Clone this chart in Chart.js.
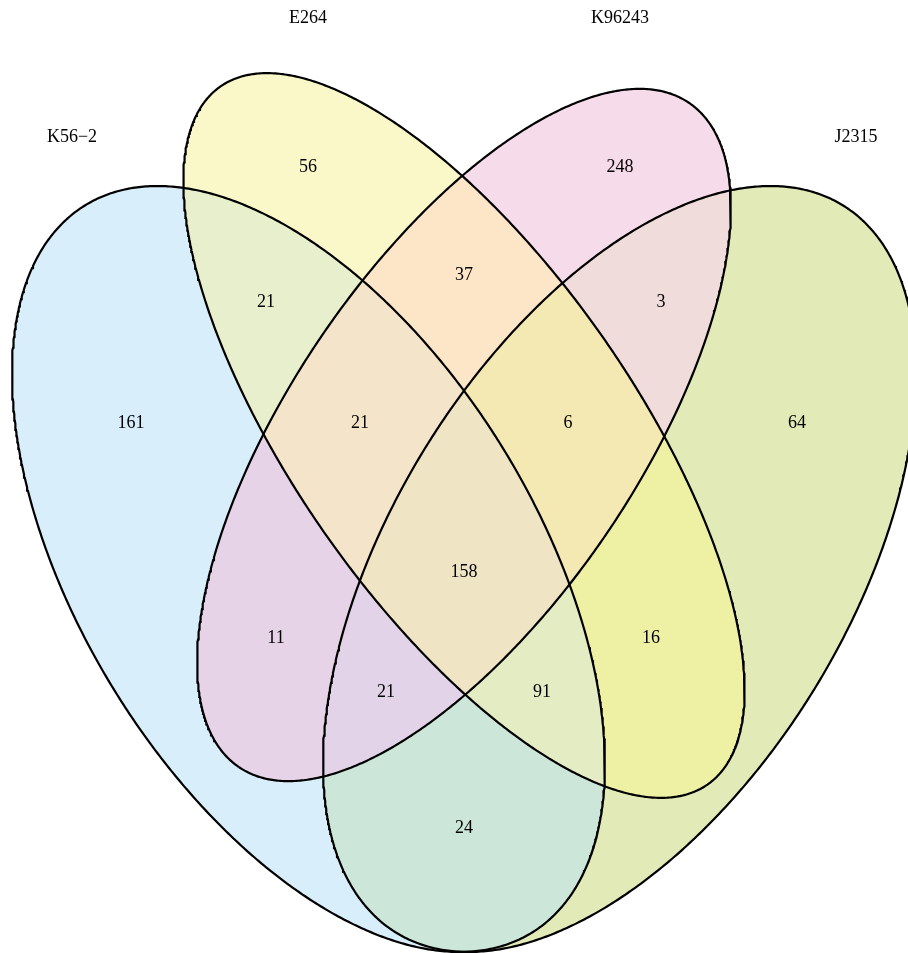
<!DOCTYPE html>
<html><head><meta charset="utf-8">
<script src="https://cdn.jsdelivr.net/npm/chart.js@4.4.1/dist/chart.umd.min.js"></script>
<style>html,body{margin:0;padding:0;background:#fff;overflow:hidden}canvas{display:block}</style>
</head><body>
<canvas id="c" width="908" height="953"></canvas>
<script>
// ---- data ----
const setNames = ["K56\u22122", "E264", "K96243", "J2315"];
const setKeys = ["A", "B", "C", "D"];
// region = combination of sets (A=K56-2, B=E264, C=K96243, D=J2315)
const regionKeys = ["A", "B", "C", "D", "AB", "BC", "CD", "ABC", "BCD", "ABCD", "AC", "BD", "ACD", "ABD", "AD"];
const regionCounts = [161, 56, 248, 64, 21, 37, 3, 21, 6, 158, 11, 16, 21, 91, 24];

// ---- layout (drawing units = pixels, y downward) ----
const ellipseGeom = [
  { cx: 308.5, cy: 569,   a: 426.8, b: 228.9, angle: 58.47 },
  { cx: 464,   cy: 435.5, a: 425.6, b: 170.1, angle: 55.1 },
  { cx: 464,   cy: 435,   a: 401.2, b: 173.4, angle: 124.1 },
  { cx: 619.5, cy: 569,   a: 426.8, b: 228.9, angle: 121.53 }
];
const setLabelAt = [[72, 137], [308, 18], [620, 18], [856, 137]];
const regionLabelAt = {
  A: [131, 423], B: [308, 167], C: [620, 167], D: [797, 423],
  AB: [266, 302], BC: [464, 275], CD: [661, 302], ABC: [360, 423],
  BCD: [568, 423], ABCD: [464, 572], AC: [276, 638], BD: [651, 638],
  ACD: [386, 692], ABD: [542, 692], AD: [464, 828]
};
const regionColors = {
  A: "#D8EEFA", B: "#FAF8C8", C: "#F6DCEA", D: "#E2EBB8",
  AB: "#E8EFCC", BC: "#FDE6C8", CD: "#F0DCDA", ABC: "#F4E5CA",
  BCD: "#F4E8B3", ABCD: "#EFE5C5", AC: "#E6D3E7", BD: "#EEF0A4",
  ACD: "#E3D3E8", ABD: "#E4ECC4", AD: "#CCE6D9"
};
const FONT = '18px "Liberation Serif", "Times New Roman", serif';

function ellipsePoints(e, n) {
  const t = e.angle * Math.PI / 180, c = Math.cos(t), s = Math.sin(t);
  const pts = [];
  for (let i = 0; i <= n; i++) {
    const u = 2 * Math.PI * i / n;
    const px = e.a * Math.cos(u), py = e.b * Math.sin(u);
    pts.push({ x: e.cx + px * c - py * s, y: e.cy + px * s + py * c });
  }
  return pts;
}
const outlines = ellipseGeom.map(e => ellipsePoints(e, 720));

const vennPlugin = {
  id: 'venn',
  beforeDatasetsDraw(chart) {
    const { ctx, scales } = chart;
    const xs = scales.x, ys = scales.y;
    const W = chart.width, H = chart.height;
    const paths = outlines.map(pts => {
      const p = new Path2D();
      pts.forEach((pt, i) => {
        const px = xs.getPixelForValue(pt.x), py = ys.getPixelForValue(pt.y);
        if (i) p.lineTo(px, py); else p.moveTo(px, py);
      });
      p.closePath();
      return p;
    });
    regionKeys.forEach(k => {
      ctx.save();
      setKeys.forEach((s, i) => {
        if (k.includes(s)) ctx.clip(paths[i]);
        else {
          const q = new Path2D();
          q.rect(-10, -10, W + 20, H + 20);
          q.addPath(paths[i]);
          ctx.clip(q, 'evenodd');
        }
      });
      ctx.fillStyle = regionColors[k];
      ctx.fillRect(0, 0, W, H);
      ctx.restore();
    });
  },
  afterDatasetsDraw(chart) {
    const { ctx, scales } = chart;
    const xs = scales.x, ys = scales.y;
    ctx.save();
    ctx.font = FONT;
    ctx.fillStyle = '#000';
    ctx.textAlign = 'center';
    ctx.textBaseline = 'middle';
    regionKeys.forEach((k, i) => {
      const p = regionLabelAt[k];
      ctx.fillText(String(regionCounts[i]), xs.getPixelForValue(p[0]), ys.getPixelForValue(p[1]));
    });
    setNames.forEach((n, i) => {
      const p = setLabelAt[i];
      ctx.fillText(n, xs.getPixelForValue(p[0]), ys.getPixelForValue(p[1]));
    });
    ctx.restore();
  }
};

new Chart(document.getElementById('c'), {
  type: 'scatter',
  data: {
    datasets: outlines.map((pts, i) => ({
      label: setNames[i],
      data: pts,
      showLine: true,
      borderColor: '#000',
      borderWidth: 2.2,
      pointRadius: 0,
      pointHoverRadius: 0,
      fill: false,
      tension: 0
    }))
  },
  options: {
    responsive: false,
    animation: false,
    devicePixelRatio: 1,
    layout: { padding: 0 },
    events: [],
    plugins: { legend: { display: false }, tooltip: { enabled: false }, title: { display: false } },
    scales: {
      x: { type: 'linear', min: 0, max: 908, display: false },
      y: { type: 'linear', min: 0, max: 953, reverse: true, display: false }
    }
  },
  plugins: [vennPlugin]
});
</script>
</body></html>
